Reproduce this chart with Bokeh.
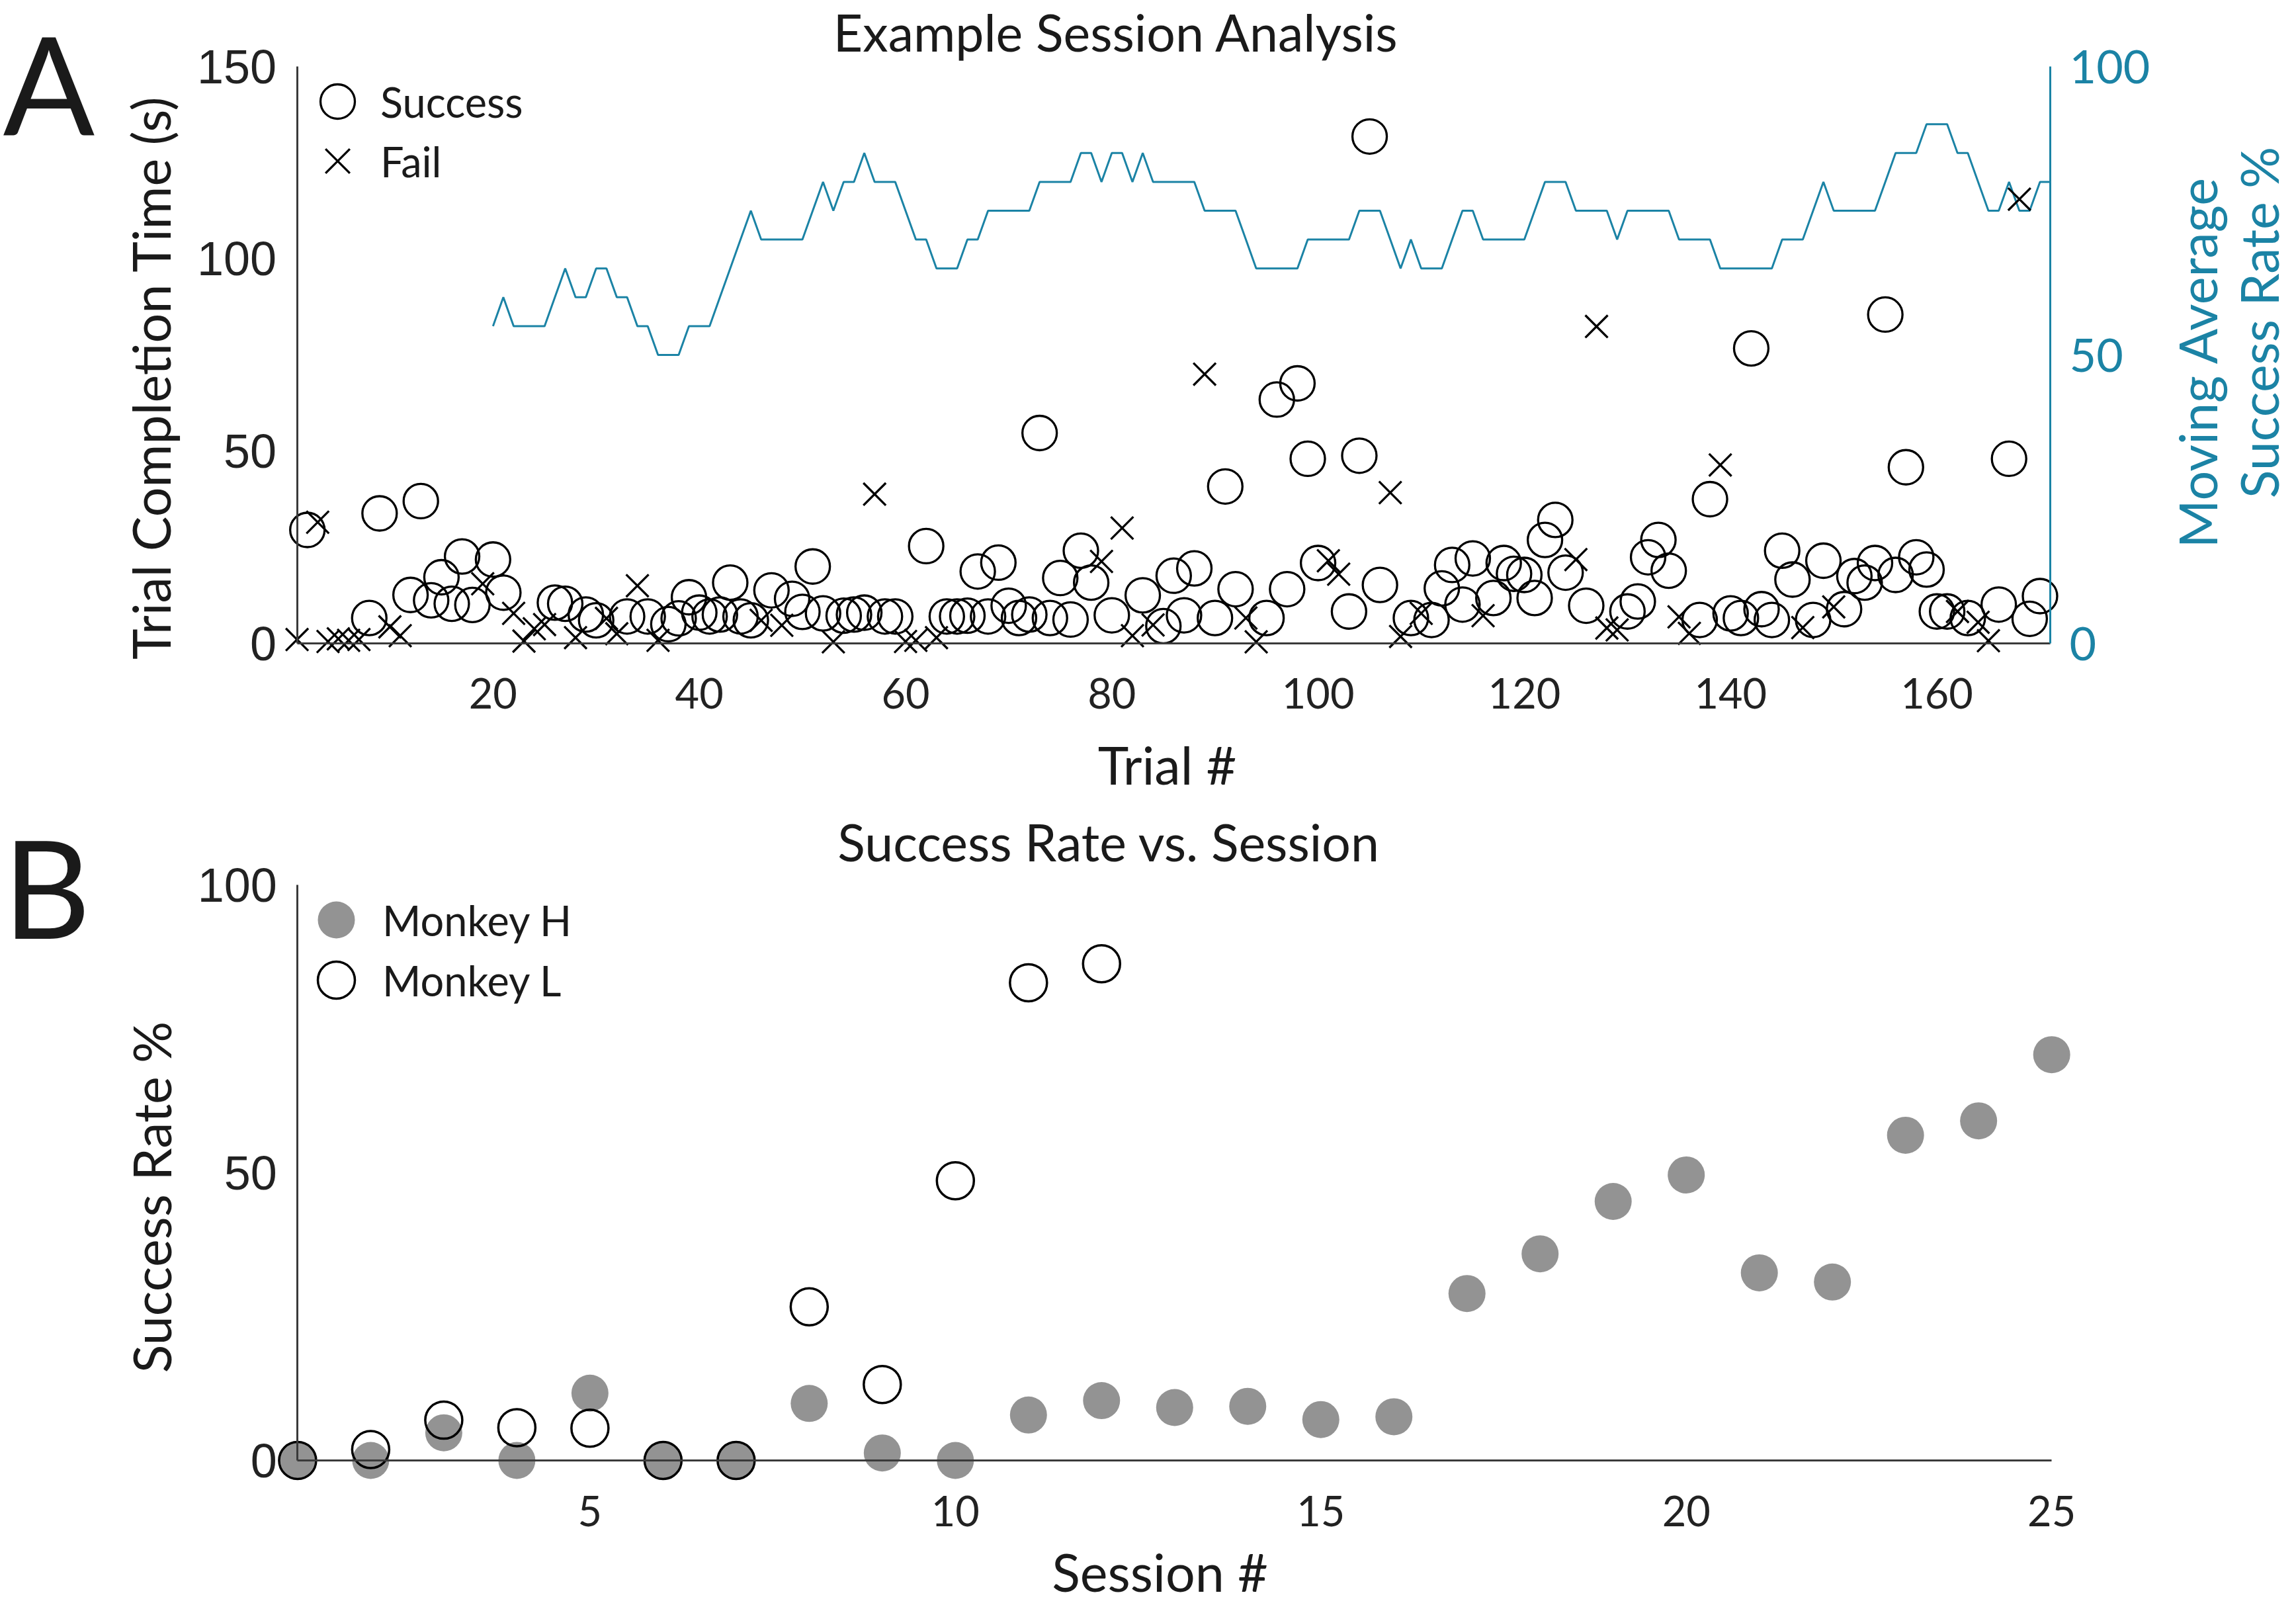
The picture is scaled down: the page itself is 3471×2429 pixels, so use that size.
import math
from bokeh.plotting import figure
from bokeh.models import Range1d, LinearAxis, FixedTicker, Label, Legend, LegendItem
from bokeh.layouts import column
from bokeh.embed import file_html
from bokeh.resources import INLINE

# ---------------- Panel A data ----------------
success_trials = [2, 8, 9, 12, 13, 14, 15, 16, 17, 18, 20, 21, 26, 27, 29, 30, 33, 35, 37, 38,
                  39, 40, 41, 42, 43, 44, 45, 47, 49, 50, 51, 52, 54, 55, 56, 58, 59, 62, 64, 65,
                  66, 67, 68, 69, 70, 71, 72, 73, 74, 75, 76, 77, 78, 80, 83, 85, 86, 87, 88, 90,
                  91, 92, 95, 96, 97, 98, 99, 100, 103, 104, 105, 106, 109, 111, 112, 113, 114, 115, 117, 118,
                  119, 120, 121, 122, 123, 124, 126, 130, 131, 132, 133, 134, 137, 138, 140, 141, 142, 143, 144, 145,
                  146, 148, 149, 151, 152, 153, 154, 155, 156, 157, 158, 159, 160, 161, 163, 166, 167, 169, 170]
success_times = [29.5, 6.6, 33.8, 12.6, 37.0, 11.2, 17.2, 10.3, 22.6, 10.0, 21.8, 13.2, 10.6, 10.3, 7.5, 6.0, 7.0, 7.0, 5.0, 6.5,
                 12.0, 8.0, 7.0, 7.5, 15.8, 7.0, 6.0, 13.8, 11.6, 8.2, 20.0, 7.8, 7.2, 7.5, 8.0, 7.0, 7.0, 25.3, 7.0, 7.0,
                 7.2, 18.7, 7.0, 21.0, 9.8, 6.6, 7.5, 54.7, 6.6, 17.0, 6.2, 24.1, 15.8, 7.3, 12.5, 4.5, 17.6, 7.3, 19.5, 6.6,
                 40.8, 14.1, 6.6, 63.4, 14.1, 67.6, 48.0, 20.9, 8.3, 48.8, 131.8, 15.2, 6.6, 6.1, 14.3, 20.4, 10.1, 22.1, 11.8, 20.9,
                 18.1, 17.8, 11.8, 26.9, 32.1, 18.4, 9.8, 8.3, 10.9, 22.4, 26.9, 18.9, 6.1, 37.5, 7.8, 6.6, 76.7, 8.9, 6.1, 24.1,
                 16.6, 6.1, 21.5, 8.9, 17.5, 15.8, 20.9, 85.5, 17.8, 45.8, 22.4, 19.2, 8.3, 8.3, 6.6, 10.1, 48.0, 6.4, 12.3]
fail_trials = [1, 3, 4, 5, 6, 7, 10, 11, 19, 22, 23, 24, 25, 28, 31, 32, 34, 36, 46, 48,
               53, 57, 60, 61, 63, 79, 81, 82, 84, 89, 93, 94, 101, 102, 107, 108, 110, 116, 125, 127,
               128, 129, 135, 136, 139, 147, 150, 162, 164, 165, 168]
fail_times = [1.0, 31.5, 0.5, 1.2, 0.8, 1.0, 4.3, 2.0, 15.5, 7.8, 0.6, 3.8, 4.9, 1.5, 6.5, 2.5, 15.0, 0.8, 6.0, 4.7,
              0.4, 38.8, 0.5, 0.8, 1.5, 21.3, 30.0, 2.0, 4.8, 70.0, 6.6, 0.4, 21.5, 18.0, 39.2, 1.8, 7.8, 7.2, 21.8, 82.4,
              4.0, 3.5, 6.9, 2.6, 46.4, 4.1, 9.5, 8.3, 5.5, 0.7, 115.5]
ma_trials = list(range(20, 172))
ma_rate = [55, 60, 55, 55, 55, 55, 60, 65, 60, 60,
           65, 65, 60, 60, 55, 55, 50, 50, 50, 55,
           55, 55, 60, 65, 70, 75, 70, 70, 70, 70,
           70, 75, 80, 75, 80, 80, 85, 80, 80, 80,
           75, 70, 70, 65, 65, 65, 70, 70, 75, 75,
           75, 75, 75, 80, 80, 80, 80, 85, 85, 80,
           85, 85, 80, 85, 80, 80, 80, 80, 80, 75,
           75, 75, 75, 70, 65, 65, 65, 65, 65, 70,
           70, 70, 70, 70, 75, 75, 75, 70, 65, 70,
           65, 65, 65, 70, 75, 75, 70, 70, 70, 70,
           70, 75, 80, 80, 80, 75, 75, 75, 75, 70,
           75, 75, 75, 75, 75, 70, 70, 70, 70, 65,
           65, 65, 65, 65, 65, 70, 70, 70, 75, 80,
           75, 75, 75, 75, 75, 80, 85, 85, 85, 90,
           90, 90, 85, 85, 80, 75, 75, 80, 75, 75,
           80, 80]
trial_ticks = [20, 40, 60, 80, 100, 120, 140, 160]
time_ticks = [0, 50, 100, 150]
rate_ticks = [0, 50, 100]

# ---------------- Panel B data ----------------
sessions_h = list(range(1, 26))
rate_h = [0, 0, 4.8, 0, 11.7, 0, 0, 9.9, 1.3, 0, 7.9, 10.4, 9.2, 9.4, 7.1, 7.6,
          29.0, 35.9, 45.0, 49.6, 32.6, 31.0, 56.5, 59.0, 70.5]
sessions_l = list(range(1, 13))
rate_l = [0, 1.9, 7.0, 5.7, 5.6, 0, 0, 26.7, 13.2, 48.6, 83.0, 86.3]
session_ticks = [5, 10, 15, 20, 25]
success_pct_ticks = [0, 50, 100]

# ---------------- styles / geometry ----------------
TEAL = "#1b83a5"
GRAY = "#939393"
AX = "#3a3a3a"
TXT = "#1a1a1a"
FONT = "Lato"
TICKFONT_L = "Liberation Sans"
W = 3468
HA = 1215
HB = 1211
BL = 0.39  # baseline correction (fraction of font size)


def span(anchor_val, anchor_px, px_per_unit, lo_px, hi_px):
    return Range1d(anchor_val + (lo_px - anchor_px) / px_per_unit,
                   anchor_val + (hi_px - anchor_px) / px_per_unit)


def style_axis(ax, color=AX, font=FONT, size="63px", standoff=52, lab_color="#222222"):
    ax.axis_line_color = color
    ax.axis_line_width = 3
    ax.major_tick_line_color = None
    ax.minor_tick_line_color = None
    ax.major_tick_in = 0
    ax.major_tick_out = 0
    ax.minor_tick_in = 0
    ax.minor_tick_out = 0
    ax.major_label_text_font = font
    ax.major_label_text_font_size = size
    ax.major_label_text_color = lab_color
    ax.major_label_standoff = standoff


def add_label(p, H, px, py, text, fs, color=TXT, vertical=False, align="center"):
    """px, py: page position of the text baseline anchor (top-down y)."""
    if vertical:
        x, y, ang = px - BL * fs, H - py, math.pi / 2
    else:
        x, y, ang = px, H - py + BL * fs, 0.0
    p.add_layout(Label(x=x, y=y, x_units="screen", y_units="screen", text=text,
                       text_font=FONT, text_font_size=f"{fs}px", text_font_style="normal",
                       text_color=color, angle=ang, text_align=align,
                       text_baseline="alphabetic"))


def add_legend(p, H, renderer, label, box, cx, cy, size="63px"):
    """cx, cy: page position of the legend symbol centre."""
    leg = Legend(items=[LegendItem(label=label, renderers=[renderer])],
                 location=(cx - box / 2, H - (cy + box / 2)), orientation="vertical",
                 border_line_color=None, background_fill_alpha=0.0,
                 padding=0, margin=0, spacing=0,
                 glyph_width=box, glyph_height=box, label_height=box,
                 label_standoff=0, label_text_font=FONT, label_text_font_size=size,
                 label_text_color=TXT, label_text_baseline="middle")
    p.add_layout(leg)


def base_fig(height, xr, yr):
    p = figure(width=W, height=height, x_range=xr, y_range=yr,
               output_backend="svg", toolbar_location=None,
               min_border=0, min_border_left=0, min_border_right=0,
               min_border_top=0, min_border_bottom=0,
               x_axis_location=None, y_axis_location=None)
    p.outline_line_color = None
    p.grid.visible = False
    p.background_fill_color = "white"
    p.border_fill_color = "white"
    return p


# ---------------- Panel A ----------------
# trial 1 at x=448.6 px, 15.591 px per trial; time 0 at y=972 px, 5.8133 px per s
xA = span(1, 448.6, 15.591, 0, W)
yA_lo = -(HA - 972) / 5.8133
yA_hi = 972 / 5.8133
pA = base_fig(HA, xA, Range1d(yA_lo, yA_hi))
pA.extra_y_ranges = {"ma": Range1d(yA_lo * 100 / 150, yA_hi * 100 / 150)}

xa = LinearAxis(fixed_location=0, bounds=(1, 171), ticker=FixedTicker(ticks=trial_ticks))
style_axis(xa, standoff=52)
pA.add_layout(xa, "below")
ya = LinearAxis(fixed_location=1, bounds=(0, 150), ticker=FixedTicker(ticks=time_ticks))
style_axis(ya, font=TICKFONT_L, size="72px", standoff=31)
pA.add_layout(ya, "left")
yr = LinearAxis(y_range_name="ma", fixed_location=171, bounds=(0, 100), ticker=FixedTicker(ticks=rate_ticks))
style_axis(yr, color=TEAL, size="70px", standoff=29, lab_color=TEAL)
pA.add_layout(yr, "right")

pA.line(ma_trials, ma_rate, y_range_name="ma", line_color=TEAL, line_width=3)
rS = pA.scatter(success_trials, success_times, marker="circle", size=52, fill_color=None,
                line_color="black", line_width=3.3)
rF = pA.scatter(fail_trials, fail_times, marker="x", size=48, line_color="black", line_width=3.3)

add_legend(pA, HA, rS, "Success", 130, 510, 153)
add_legend(pA, HA, rF, "Fail", 130, 510, 243)

add_label(pA, HA, 1687, 78, "Example Session Analysis", 77)
add_label(pA, HA, 1764, 1186, "Trial #", 79)
add_label(pA, HA, 258, 570, "Trial Completion Time (s)", 79, vertical=True)
add_label(pA, HA, 3352, 547, "Moving Average", 79, color=TEAL, vertical=True)
add_label(pA, HA, 3445, 487, "Success Rate %", 79, color=TEAL, vertical=True)
add_label(pA, HA, 4, 204, "A", 205, align="left")

# ---------------- Panel B ----------------
# session 1 at x=449.4 px, 110.49 px per session; rate 0 at y=992 px (in this canvas), 8.70 px per %
xB = span(1, 449.4, 110.49, 0, W)
pB = base_fig(HB, xB, Range1d(-(HB - 992) / 8.70, 992 / 8.70))

xb = LinearAxis(fixed_location=0, bounds=(1, 25), ticker=FixedTicker(ticks=session_ticks))
style_axis(xb, standoff=53)
pB.add_layout(xb, "below")
yb = LinearAxis(fixed_location=1, bounds=(0, 100), ticker=FixedTicker(ticks=success_pct_ticks))
style_axis(yb, font=TICKFONT_L, size="72px", standoff=31)
pB.add_layout(yb, "left")

rH = pB.scatter(sessions_h, rate_h, marker="circle", size=56, fill_color=GRAY, line_color=None)
rL = pB.scatter(sessions_l, rate_l, marker="circle", size=56, fill_color=None,
                line_color="black", line_width=3.5)

add_legend(pB, HB, rH, "Monkey H", 140, 508, 1390 - HA)
add_legend(pB, HB, rL, "Monkey L", 140, 508, 1481 - HA)

add_label(pB, HB, 1676, 1302 - HA, "Success Rate vs. Session", 77)
add_label(pB, HB, 1753, 2406 - HA, "Session #", 79)
add_label(pB, HB, 259, 1809 - HA, "Success Rate %", 79, vertical=True)
add_label(pB, HB, 4, 1419 - HA, "B", 205, align="left")

layout = column(pA, pB)
open("out.html", "w").write(file_html(layout, INLINE))
